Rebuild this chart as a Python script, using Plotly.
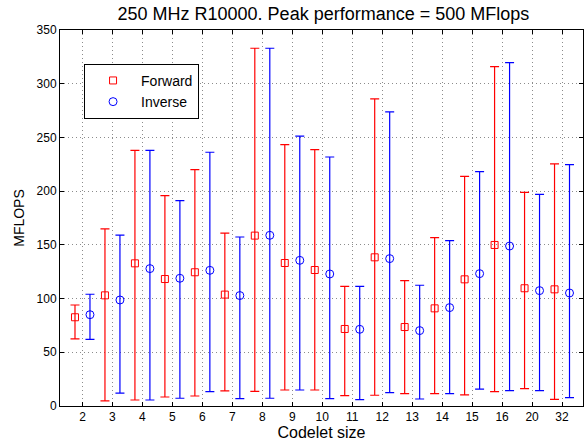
import plotly.graph_objects as go

categories = ["2", "3", "4", "5", "6", "7", "8", "9", "10", "11", "12", "13", "14", "15", "16", "20", "32"]

fwd_mean = [82.6, 103, 132.8, 118.2, 124.5, 103.7, 158.6, 133.1, 126.6, 71.7, 138.4, 73.5, 90.9, 117.9, 149.9, 109.6, 108.6]
fwd_max = [94, 164.8, 238, 195.8, 220, 161, 333, 243.3, 238.7, 111.4, 285.8, 116.7, 156.7, 213.8, 315.9, 198.9, 225.3]
fwd_min = [62.4, 4.7, 5.6, 8.4, 9.3, 14, 13.7, 14.9, 14.9, 9.7, 10, 11.5, 11.5, 10.3, 13.4, 16.2, 6.2]

inv_mean = [85, 98.7, 127.9, 118.9, 126.3, 102.8, 158.9, 135.6, 122.9, 71.4, 137.2, 70.2, 91.6, 123.2, 148.9, 107.4, 105.2]
inv_max = [104, 159, 238, 191.2, 236.2, 157.3, 333, 251.3, 231.8, 111.4, 273.7, 112.4, 154, 218.2, 319.6, 197, 224.7]
inv_min = [62, 12, 5.6, 7.2, 13.4, 6.9, 7.2, 14.9, 6.9, 6, 12.5, 6.5, 11.5, 15.8, 14.3, 14.3, 7.8]

idx = list(range(1, len(categories) + 1))
x_f = [i - 0.25 for i in idx]
x_i = [i + 0.25 for i in idx]

fig = go.Figure()
fig.add_trace(go.Scatter(
    x=x_f, y=fwd_mean, mode="markers", name="Forward",
    marker=dict(symbol="square-open", size=7, color="#ff0000", line=dict(width=1)),
    error_y=dict(type="data", symmetric=False,
                 array=[a - m for a, m in zip(fwd_max, fwd_mean)],
                 arrayminus=[m - b for b, m in zip(fwd_min, fwd_mean)],
                 color="#ff0000", thickness=1.2, width=4.5),
))
fig.add_trace(go.Scatter(
    x=x_i, y=inv_mean, mode="markers", name="Inverse",
    marker=dict(symbol="circle-open", size=8, color="#0000ff", line=dict(width=1)),
    error_y=dict(type="data", symmetric=False,
                 array=[a - m for a, m in zip(inv_max, inv_mean)],
                 arrayminus=[m - b for b, m in zip(inv_min, inv_mean)],
                 color="#0000ff", thickness=1.2, width=4.5),
))

font_family = "Liberation Sans, Arial, Helvetica, sans-serif"
fig.update_layout(
    width=588, height=441,
    margin=dict(l=60, r=5, t=30, b=35),
    paper_bgcolor="white", plot_bgcolor="white",
    font=dict(family=font_family, size=12, color="black"),
    title=dict(text="250 MHz R10000. Peak performance = 500 MFlops",
               x=0.55, xanchor="center", y=0.968, yanchor="middle",
               font=dict(size=18, color="black")),
    showlegend=True,
    legend=dict(x=0.046, y=0.91, xanchor="left", yanchor="top",
                bordercolor="black", borderwidth=1, bgcolor="white",
                font=dict(size=14), tracegroupgap=0, itemwidth=46),
)
grid_kw = dict(showgrid=True, gridcolor="#8c8c8c", griddash="1px,3px", gridwidth=1)
fig.update_xaxes(
    range=[0.25, 17.7], tickmode="array", tickvals=idx, ticktext=categories,
    showline=True, linecolor="black", linewidth=1, mirror="ticks",
    ticks="inside", ticklen=4, tickcolor="black",
    zeroline=False, tickfont=dict(size=12),
    title=dict(text="Codelet size", font=dict(size=16), standoff=0),
    **grid_kw,
)
fig.update_yaxes(
    range=[0, 350], tickmode="array", tickvals=[0, 50, 100, 150, 200, 250, 300, 350],
    showline=True, linecolor="black", linewidth=1, mirror="ticks",
    ticks="inside", ticklen=4, tickcolor="black",
    zeroline=False, tickfont=dict(size=12),
    title=dict(text="MFLOPS", font=dict(size=14), standoff=8),
    **grid_kw,
)

fig.write_html("out.html")
